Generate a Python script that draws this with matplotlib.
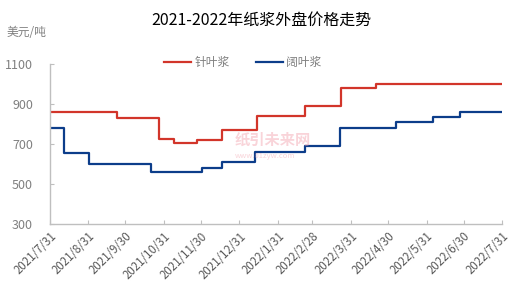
import pandas as pd
import matplotlib
matplotlib.use('Agg')
import matplotlib.pyplot as plt

plt.rcParams['font.family'] = ['Noto Sans CJK SC', 'DejaVu Sans']

# data (dates where the price changes)
red_dates = ['2021-07-31', '2021-09-23', '2021-10-27', '2021-11-08', '2021-11-27',
             '2021-12-17', '2022-01-14', '2022-02-22', '2022-03-23', '2022-04-20', '2022-07-31']
red_vals = [860, 830, 725, 705, 720, 770, 840, 890, 980, 1000, 1000]
blue_dates = ['2021-07-31', '2021-08-12', '2021-09-01', '2021-10-21', '2021-12-01', '2021-12-17',
              '2022-01-13', '2022-02-22', '2022-03-22', '2022-05-06', '2022-06-05', '2022-06-27', '2022-07-31']
blue_vals = [780, 655, 600, 560, 580, 610, 660, 690, 780, 810, 835, 860, 860]
tick_labels = ['2021/7/31', '2021/8/31', '2021/9/30', '2021/10/31', '2021/11/30', '2021/12/31',
               '2022/1/31', '2022/2/28', '2022/3/31', '2022/4/30', '2022/5/31', '2022/6/30', '2022/7/31']
y_ticks = [300, 500, 700, 900, 1100]

red_c = '#d2352a'
blue_c = '#0c3d8a'

fig = plt.figure(figsize=(5.22, 2.95), dpi=100)
ax = fig.add_axes([0.095, 0.24, 0.867, 0.542])

ax.plot(pd.to_datetime(red_dates), red_vals, drawstyle='steps-post', color=red_c, lw=1.6, label='针叶浆')
ax.plot(pd.to_datetime(blue_dates), blue_vals, drawstyle='steps-post', color=blue_c, lw=1.6, label='阔叶浆')

ticks = pd.to_datetime(tick_labels, format='%Y/%m/%d')
ax.set_xlim(ticks[0], ticks[-1])
ax.set_xticks(ticks)
ax.set_xticklabels(tick_labels, rotation=45, ha='right', va='top', rotation_mode='anchor',
                   fontsize=8.3, color='#595959')
ax.set_ylim(300, 1100)
ax.set_yticks(y_ticks)
ax.set_yticklabels([str(v) for v in y_ticks], fontsize=9, color='#808080')

for s in ['top', 'right']:
    ax.spines[s].set_visible(False)
for s in ['left', 'bottom']:
    ax.spines[s].set_color('#bfbfbf')
    ax.spines[s].set_linewidth(1)
ax.tick_params(axis='x', direction='in', length=3, color='#bfbfbf', pad=4)
ax.tick_params(axis='y', direction='in', length=3, color='#bfbfbf', pad=12)

# watermark
fig.text(0.45, 0.525, '纸引未来网', fontsize=11, color='#f2a0ac', alpha=0.45,
         fontweight='bold', va='center')
fig.text(0.45, 0.47, 'www.01zyw.com', fontsize=5.5, color='#f2a0ac', alpha=0.45, va='center')

fig.text(0.5, 0.932, '2021-2022年纸浆外盘价格走势', ha='center', va='center', fontsize=11.5, color='#000000')
fig.text(0.013, 0.89, '美元/吨', ha='left', va='center', fontsize=8.5, color='#808080')

leg = fig.legend(loc='center', bbox_to_anchor=(0.465, 0.787), ncol=2, frameon=False,
                 fontsize=8.5, handlelength=2.3, columnspacing=2.2, handletextpad=0.3)
for t in leg.get_texts():
    t.set_color('#808080')

fig.savefig('out.png', dpi=100)
